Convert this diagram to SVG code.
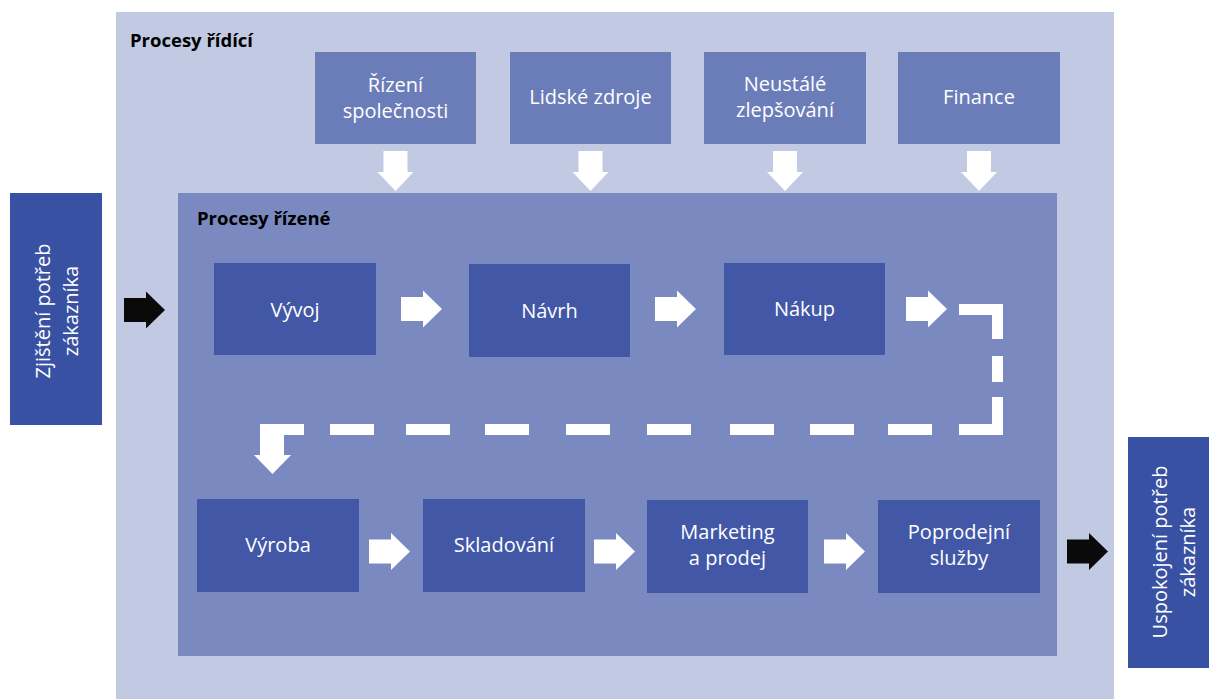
<svg xmlns="http://www.w3.org/2000/svg" width="1209" height="699" viewBox="0 0 1209 699">
<style>
.t{font-family:"Open Sans","Noto Sans","Liberation Sans",sans-serif;font-size:20px;fill:#fff;text-anchor:middle}
.h{font-family:"Open Sans","Noto Sans","Liberation Sans",sans-serif;font-size:18.5px;font-weight:bold;fill:#000}
.top{fill:#6B7DB9}
.dk{fill:#4258A7}
.side{fill:#3951A3}
.wa{fill:#fff}
.ba{fill:#0A0A0A}
.dash{fill:none;stroke:#fff;stroke-width:11;stroke-linejoin:miter}
</style>
<rect width="1209" height="699" fill="#fff"/>
<g id="procesy-ridici">
<rect x="116" y="12" width="998" height="687" fill="#C2C9E2"/>
<text class="h" x="130" y="47">Procesy řídící</text>
</g>
<g id="procesy-rizene">
<rect x="178" y="193" width="879" height="463" fill="#7A8AC0"/>
<text class="h" x="197" y="225">Procesy řízené</text>
</g>
<g id="rizeni-spolecnosti"><rect class="top" x="315" y="52" width="161" height="92"/><text class="t" x="395.5" y="92">Řízení</text><text class="t" x="395.5" y="118">společnosti</text></g>
<g id="lidske-zdroje"><rect class="top" x="510" y="52" width="161" height="92"/><text class="t" x="590.5" y="104">Lidské zdroje</text></g>
<g id="neustale-zlepsovani"><rect class="top" x="704" y="52" width="162" height="92"/><text class="t" x="785" y="91">Neustálé</text><text class="t" x="785" y="117">zlepšování</text></g>
<g id="finance"><rect class="top" x="898" y="52" width="162" height="92"/><text class="t" x="979" y="104">Finance</text></g>
<g id="zjisteni"><rect class="side" x="10" y="193" width="92" height="232"/><text class="t" transform="translate(50,311) rotate(-90)">Zjištění potřeb</text><text class="t" transform="translate(78,311) rotate(-90)">zákazníka</text></g>
<g id="uspokojeni"><rect class="side" x="1128" y="437" width="81" height="231"/><text class="t" transform="translate(1167,552) rotate(-90)">Uspokojení potřeb</text><text class="t" transform="translate(1195,552) rotate(-90)">zákazníka</text></g>
<g id="vyvoj"><rect class="dk" x="214" y="263" width="162" height="92"/><text class="t" x="295" y="317">Vývoj</text></g>
<g id="navrh"><rect class="dk" x="469" y="264" width="161" height="93"/><text class="t" x="549.5" y="318">Návrh</text></g>
<g id="nakup"><rect class="dk" x="724" y="263" width="161" height="92"/><text class="t" x="804.5" y="316">Nákup</text></g>
<g id="vyroba"><rect class="dk" x="197" y="499" width="162" height="93"/><text class="t" x="278" y="552">Výroba</text></g>
<g id="skladovani"><rect class="dk" x="423" y="499" width="162" height="93"/><text class="t" x="504" y="552">Skladování</text></g>
<g id="marketing"><rect class="dk" x="647" y="500" width="161" height="93"/><text class="t" x="727.5" y="539">Marketing</text><text class="t" x="727.5" y="565">a prodej</text></g>
<g id="poprodejni"><rect class="dk" x="878" y="500" width="162" height="93"/><text class="t" x="959" y="539">Poprodejní</text><text class="t" x="959" y="565">služby</text></g>
<g id="connectors">
<defs>
<polygon id="ra" points="0,-12 22,-12 22,-18.5 41,0 22,18.5 22,12 0,12"/>
<polygon id="da" points="-12,0 12,0 12,21 18,21 0,40 -18,21 -12,21"/>
</defs>
<use href="#da" class="wa" x="395.5" y="151"/>
<use href="#da" class="wa" x="590.5" y="151"/>
<use href="#da" class="wa" x="785" y="151"/>
<use href="#da" class="wa" x="979" y="151"/>
<use href="#ra" class="ba" x="124" y="310"/>
<use href="#ra" class="ba" x="1067" y="551.5"/>
<use href="#ra" class="wa" x="401" y="309"/>
<use href="#ra" class="wa" x="655" y="309"/>
<use href="#ra" class="wa" x="906" y="309"/>
<use href="#ra" class="wa" x="369" y="551.5"/>
<use href="#ra" class="wa" x="594" y="551.5"/>
<use href="#ra" class="wa" x="824" y="551.5"/>
<path class="dash" d="M959 309.5H997.5V339M997.5 356V382M997.5 397V429.5H959M932 429.5H888M854 429.5H810M774 429.5H730M691 429.5H647M610 429.5H566M529 429.5H485M450 429.5H406M374 429.5H330"/>
<polygon class="wa" points="260,424 304,424 304,435 284,435 284,455 291,455 272.5,474 254,455 260,455"/>
</g>
</svg>
